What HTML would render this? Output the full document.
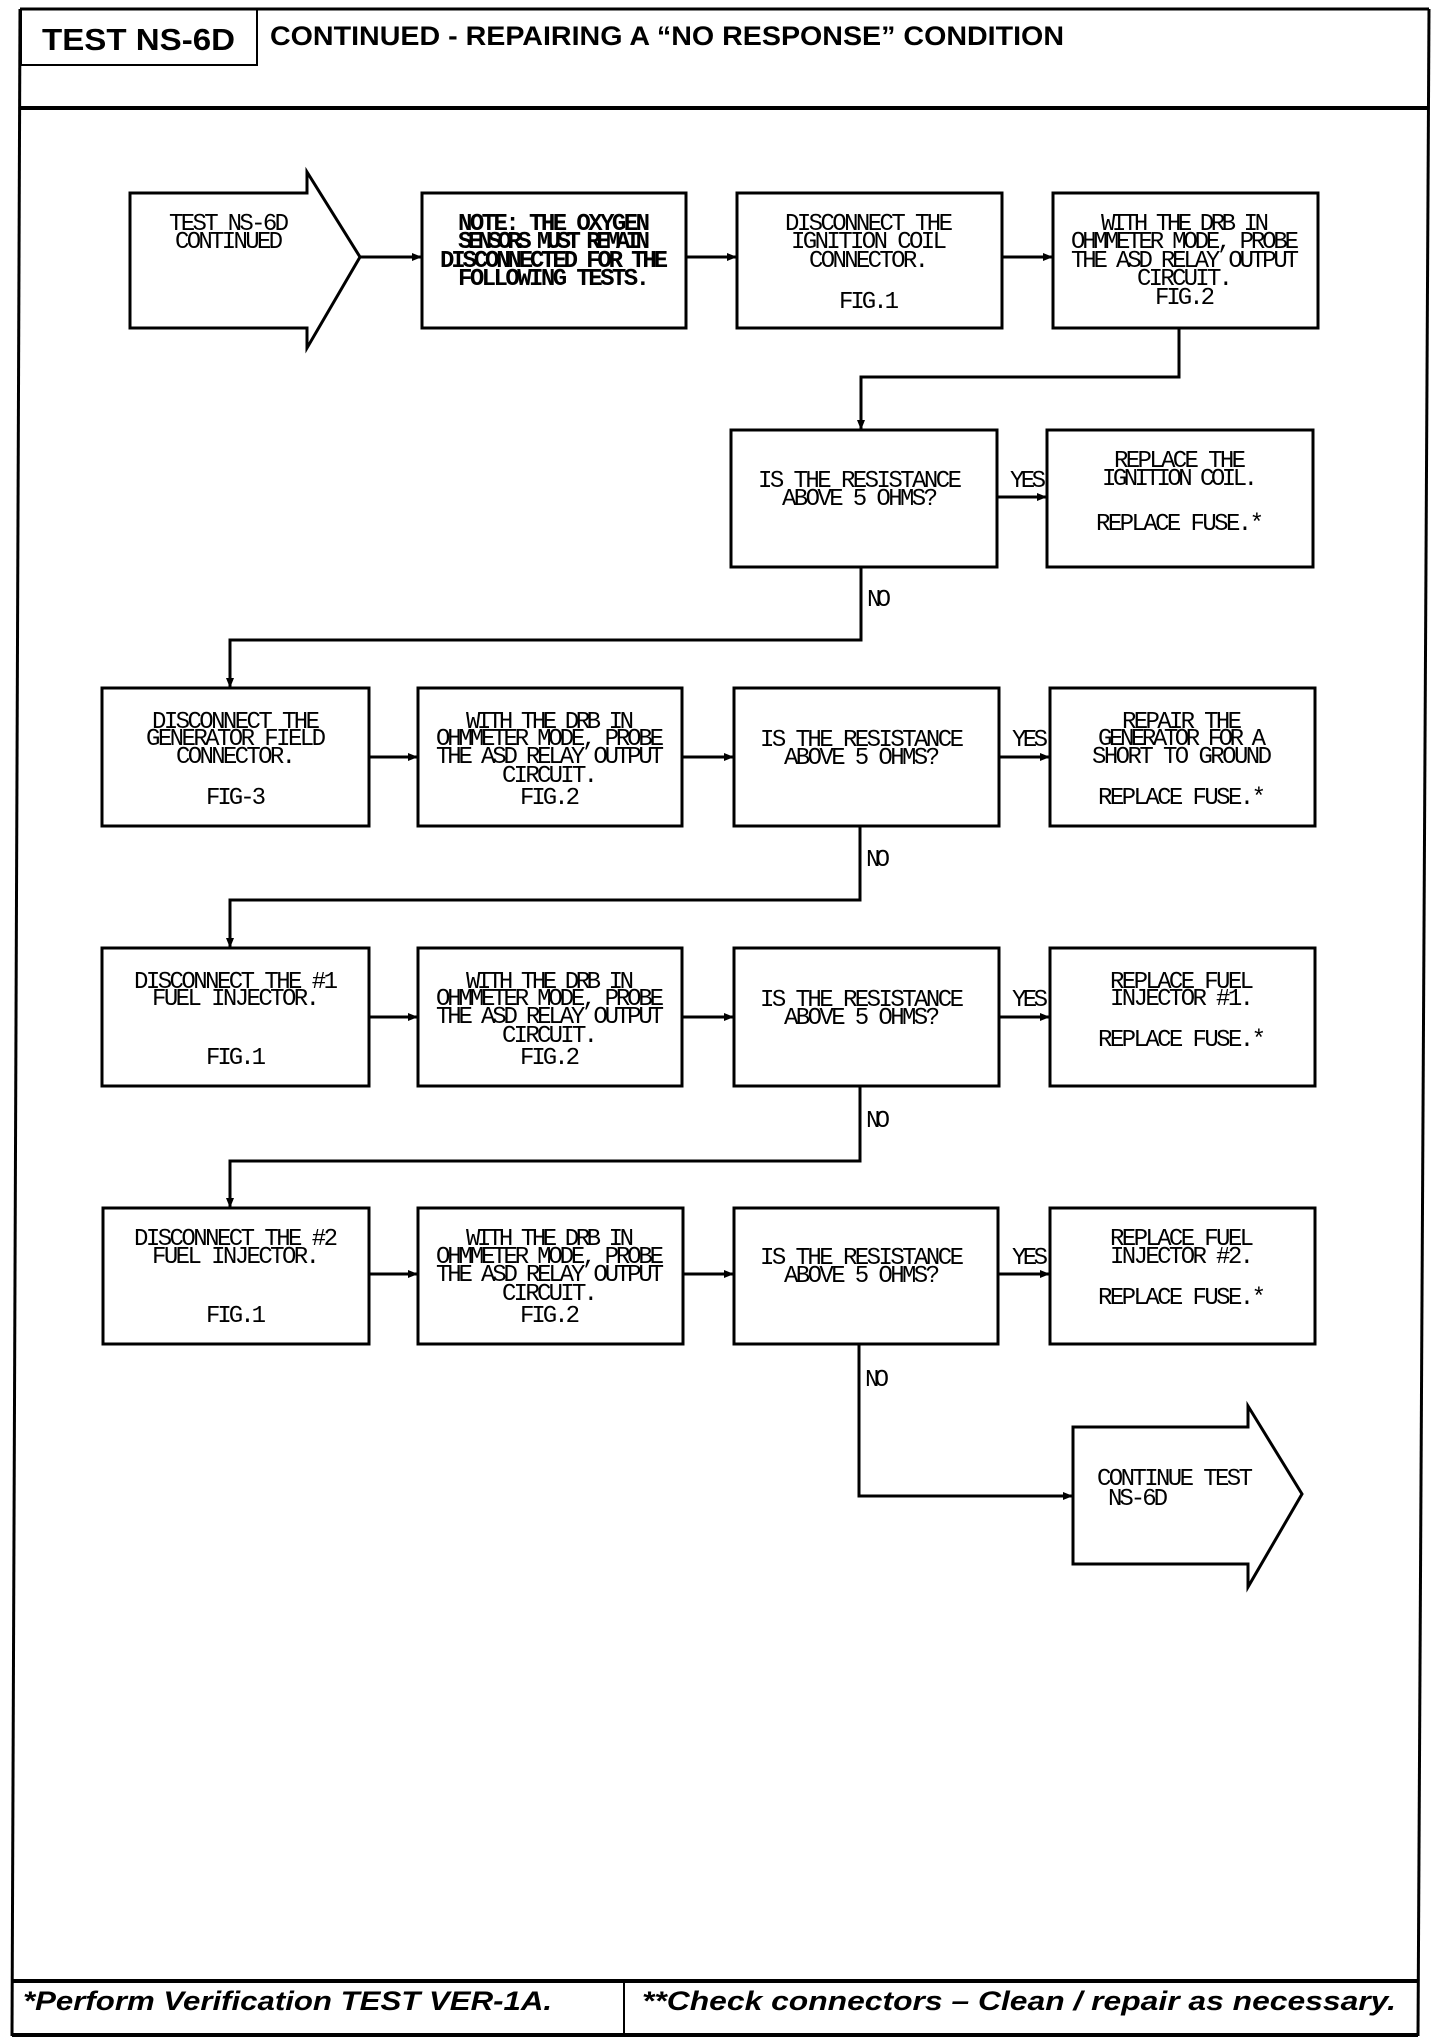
<!DOCTYPE html>
<html><head><meta charset="utf-8"><style>
html,body{margin:0;padding:0;background:#fff}
svg{display:block}
.t{font-family:"Liberation Mono",monospace;font-size:24px;fill:#000}
.b{font-weight:bold}
</style></head><body>
<svg width="1440" height="2042" viewBox="0 0 1440 2042" xmlns="http://www.w3.org/2000/svg">
<defs><marker id="a" markerWidth="10" markerHeight="10" refX="9" refY="5" orient="auto" markerUnits="userSpaceOnUse"><path d="M0,1 L10,5 L0,9 Z" fill="#000"/></marker></defs>
<g stroke="#000" fill="none">
<!-- frame -->
<line x1="20" y1="9" x2="12" y2="2036" stroke-width="3"/>
<line x1="1429" y1="9" x2="1418" y2="2036" stroke-width="3"/>
<line x1="20" y1="9" x2="1429" y2="9" stroke-width="3"/>
<line x1="20" y1="108" x2="1429" y2="108" stroke-width="4"/>
<line x1="12" y1="1981" x2="1418" y2="1981" stroke-width="4"/>
<line x1="12" y1="2035" x2="1418" y2="2035" stroke-width="4"/>
<line x1="624" y1="1981" x2="624" y2="2035" stroke-width="2"/>
<rect x="21" y="9" width="236" height="56" stroke-width="2"/>
<!-- row1 -->
<polygon points="130,193 307,193 307,172 360,257 307,348 307,328 130,328" stroke-width="3"/>
<rect x="422" y="193" width="264" height="135" stroke-width="3"/>
<rect x="737" y="193" width="265" height="135" stroke-width="3"/>
<rect x="1053" y="193" width="265" height="135" stroke-width="3"/>
<!-- row2 -->
<rect x="731" y="430" width="266" height="137" stroke-width="3"/>
<rect x="1047" y="430" width="266" height="137" stroke-width="3"/>
<!-- rows 3-5 -->
<rect x="102" y="688" width="267" height="138" stroke-width="3"/>
<rect x="418" y="688" width="264" height="138" stroke-width="3"/>
<rect x="734" y="688" width="265" height="138" stroke-width="3"/>
<rect x="1050" y="688" width="265" height="138" stroke-width="3"/>
<rect x="102" y="948" width="267" height="138" stroke-width="3"/>
<rect x="418" y="948" width="264" height="138" stroke-width="3"/>
<rect x="734" y="948" width="265" height="138" stroke-width="3"/>
<rect x="1050" y="948" width="265" height="138" stroke-width="3"/>
<rect x="103" y="1208" width="266" height="136" stroke-width="3"/>
<rect x="418" y="1208" width="265" height="136" stroke-width="3"/>
<rect x="734" y="1208" width="264" height="136" stroke-width="3"/>
<rect x="1050" y="1208" width="265" height="136" stroke-width="3"/>
<polygon points="1073,1427 1248,1427 1248,1406 1302,1494 1248,1587 1248,1564 1073,1564" stroke-width="3"/>
</g>
<g stroke="#000" stroke-width="3" fill="none" marker-end="url(#a)">
<line x1="360" y1="257" x2="421" y2="257"/>
<line x1="686" y1="257" x2="736" y2="257"/>
<line x1="1002" y1="257" x2="1052" y2="257"/>
<polyline points="1179,328 1179,377 861,377 861,429"/>
<line x1="997" y1="497" x2="1046" y2="497"/>
<polyline points="861,567 861,640 230,640 230,687"/>
<line x1="369" y1="757" x2="417" y2="757"/>
<line x1="682" y1="757" x2="733" y2="757"/>
<line x1="999" y1="757" x2="1049" y2="757"/>
<polyline points="860,826 860,900 230,900 230,947"/>
<line x1="369" y1="1017" x2="417" y2="1017"/>
<line x1="682" y1="1017" x2="733" y2="1017"/>
<line x1="999" y1="1017" x2="1049" y2="1017"/>
<polyline points="860,1086 860,1161 230,1161 230,1207"/>
<line x1="369" y1="1274" x2="417" y2="1274"/>
<line x1="683" y1="1274" x2="733" y2="1274"/>
<line x1="998" y1="1274" x2="1049" y2="1274"/>
<polyline points="859,1344 859,1496 1072,1496"/>
</g>
<!-- header text -->
<text x="42" y="50" font-family="Liberation Sans,sans-serif" font-weight="bold" font-size="31" textLength="193" lengthAdjust="spacingAndGlyphs">TEST NS-6D</text>
<text x="270" y="45" font-family="Liberation Sans,sans-serif" font-weight="bold" font-size="27" textLength="794" lengthAdjust="spacingAndGlyphs">CONTINUED -  REPAIRING A “NO RESPONSE” CONDITION</text>
<text x="23" y="2010" font-family="Liberation Sans,sans-serif" font-weight="bold" font-style="italic" font-size="27" textLength="529" lengthAdjust="spacingAndGlyphs">*Perform Verification TEST VER-1A.</text>
<text x="642" y="2010" font-family="Liberation Sans,sans-serif" font-weight="bold" font-style="italic" font-size="27" textLength="754" lengthAdjust="spacingAndGlyphs">**Check connectors – Clean / repair as necessary.</text>
<g class="t" text-anchor="middle" lengthAdjust="spacingAndGlyphs">
<!-- row1 -->
<text x="229" y="230" textLength="120">TEST NS-6D</text>
<text x="229" y="248" textLength="108">CONTINUED</text>
<g class="b">
<text x="554" y="230" textLength="192">NOTE: THE OXYGEN</text>
<text x="554" y="248" textLength="192">SENSORS MUST REMAIN</text>
<text x="554" y="267" textLength="228">DISCONNECTED FOR THE</text>
<text x="554" y="285" textLength="192">FOLLOWING TESTS.</text>
</g>
<text x="869" y="230" textLength="168">DISCONNECT THE</text>
<text x="869" y="248" textLength="156">IGNITION COIL</text>
<text x="869" y="267" textLength="120">CONNECTOR.</text>
<text x="869" y="308" textLength="60">FIG.1</text>
<text x="1185" y="230" textLength="168">WITH THE DRB IN</text>
<text x="1185" y="248" textLength="228">OHMMETER MODE, PROBE</text>
<text x="1185" y="267" textLength="228">THE ASD RELAY OUTPUT</text>
<text x="1185" y="285" textLength="96">CIRCUIT.</text>
<text x="1185" y="304" textLength="60">FIG.2</text>
<!-- row2 -->
<text x="860" y="487" textLength="204">IS THE RESISTANCE</text>
<text x="860" y="505" textLength="156">ABOVE 5 OHMS?</text>
<text x="1180" y="467" textLength="132">REPLACE THE</text>
<text x="1180" y="485" textLength="156">IGNITION COIL.</text>
<text x="1180" y="530" textLength="168">REPLACE FUSE.*</text>
<!-- row3 -->
<text x="236" y="728" textLength="168">DISCONNECT THE</text>
<text x="236" y="745" textLength="180">GENERATOR FIELD</text>
<text x="236" y="763" textLength="120">CONNECTOR.</text>
<text x="236" y="804" textLength="60">FIG-3</text>
<text x="550" y="728" textLength="168">WITH THE DRB IN</text>
<text x="550" y="745" textLength="228">OHMMETER MODE, PROBE</text>
<text x="550" y="763" textLength="228">THE ASD RELAY OUTPUT</text>
<text x="550" y="782" textLength="96">CIRCUIT.</text>
<text x="550" y="804" textLength="60">FIG.2</text>
<text x="862" y="746" textLength="204">IS THE RESISTANCE</text>
<text x="862" y="764" textLength="156">ABOVE 5 OHMS?</text>
<text x="1182" y="728" textLength="120">REPAIR THE</text>
<text x="1182" y="745" textLength="168">GENERATOR FOR A</text>
<text x="1182" y="763" textLength="180">SHORT TO GROUND</text>
<text x="1182" y="804" textLength="168">REPLACE FUSE.*</text>
<!-- row4 -->
<text x="236" y="988" textLength="204">DISCONNECT THE #1</text>
<text x="236" y="1005" textLength="168">FUEL INJECTOR.</text>
<text x="236" y="1064" textLength="60">FIG.1</text>
<text x="550" y="988" textLength="168">WITH THE DRB IN</text>
<text x="550" y="1005" textLength="228">OHMMETER MODE, PROBE</text>
<text x="550" y="1023" textLength="228">THE ASD RELAY OUTPUT</text>
<text x="550" y="1042" textLength="96">CIRCUIT.</text>
<text x="550" y="1064" textLength="60">FIG.2</text>
<text x="862" y="1006" textLength="204">IS THE RESISTANCE</text>
<text x="862" y="1024" textLength="156">ABOVE 5 OHMS?</text>
<text x="1182" y="988" textLength="144">REPLACE FUEL</text>
<text x="1182" y="1005" textLength="144">INJECTOR #1.</text>
<text x="1182" y="1046" textLength="168">REPLACE FUSE.*</text>
<!-- row5 -->
<text x="236" y="1245" textLength="204">DISCONNECT THE #2</text>
<text x="236" y="1263" textLength="168">FUEL INJECTOR.</text>
<text x="236" y="1322" textLength="60">FIG.1</text>
<text x="550" y="1245" textLength="168">WITH THE DRB IN</text>
<text x="550" y="1263" textLength="228">OHMMETER MODE, PROBE</text>
<text x="550" y="1281" textLength="228">THE ASD RELAY OUTPUT</text>
<text x="550" y="1300" textLength="96">CIRCUIT.</text>
<text x="550" y="1322" textLength="60">FIG.2</text>
<text x="862" y="1264" textLength="204">IS THE RESISTANCE</text>
<text x="862" y="1282" textLength="156">ABOVE 5 OHMS?</text>
<text x="1182" y="1245" textLength="144">REPLACE FUEL</text>
<text x="1182" y="1263" textLength="144">INJECTOR #2.</text>
<text x="1182" y="1304" textLength="168">REPLACE FUSE.*</text>
</g>
<g class="t" lengthAdjust="spacingAndGlyphs">
<text x="1097" y="1485" textLength="156">CONTINUE TEST</text>
<text x="1108" y="1505" textLength="60">NS-6D</text>
<text x="1010" y="487" textLength="36">YES</text>
<text x="1012" y="746" textLength="36">YES</text>
<text x="1012" y="1006" textLength="36">YES</text>
<text x="1012" y="1264" textLength="36">YES</text>
<text x="867" y="606" textLength="24">NO</text>
<text x="866" y="866" textLength="24">NO</text>
<text x="866" y="1127" textLength="24">NO</text>
<text x="865" y="1386" textLength="24">NO</text>
</g>
</svg>
</body></html>
